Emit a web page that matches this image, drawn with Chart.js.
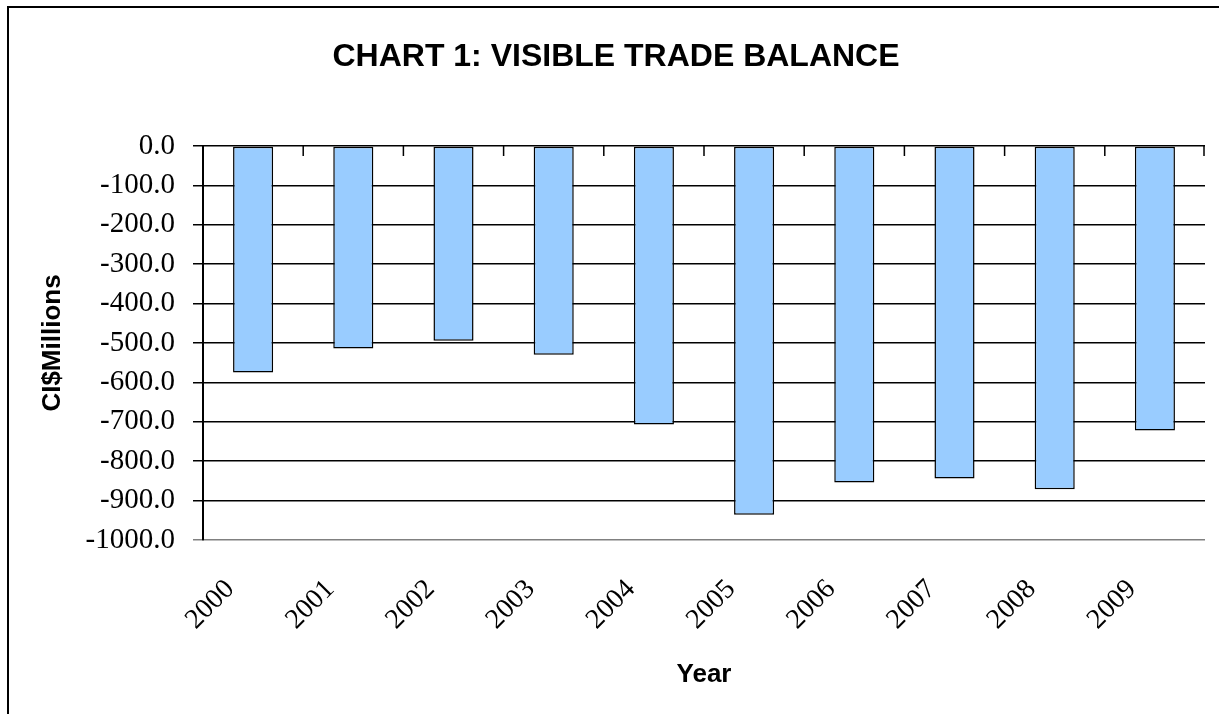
<!DOCTYPE html>
<html>
<head>
<meta charset="utf-8">
<script src="https://cdn.jsdelivr.net/npm/chart.js@4/dist/chart.umd.min.js"></script>
<style>
  html, body { margin: 0; padding: 0; background: #fff; }
  #wrap { position: relative; width: 1219px; height: 714px; overflow: hidden; }
  #frame { position: absolute; left: 7px; top: 6px; right: -10px; bottom: -10px;
           border-left: 2px solid #000; border-top: 2px solid #000; pointer-events: none; }
</style>
</head>
<body>
<div id="wrap">
  <canvas id="myChart" width="1219" height="714"></canvas>
  <div id="frame"></div>
</div>
<script>
'use strict'

let years = ['2000', '2001', '2002', '2003', '2004', '2005', '2006', '2007', '2008', '2009'];
let balance = [-575, -514, -494, -530, -707, -936, -854, -844, -871, -722];
let yMin = -1000;
let yMax = 0;
let yStep = 100;

// small tick marks pointing down from the zero line, between the bars
let innerTicks = {
    id: 'innerTicks',
    afterDatasetsDraw(chart) {
        let x = chart.scales.x;
        let top = chart.chartArea.top;
        let ctx = chart.ctx;
        ctx.save();
        ctx.strokeStyle = '#000';
        ctx.lineWidth = 1.5;
        ctx.beginPath();
        for (let i = 1; i <= years.length; i++) {
            let px = (x.getPixelForValue(i - 1) + x.getPixelForValue(i)) / 2;
            if (i === years.length) px = chart.chartArea.right - 1;
            ctx.moveTo(px, top);
            ctx.lineTo(px, top + 10);
        }
        ctx.stroke();
        ctx.restore();
    }
};

let ctx = document.getElementById('myChart').getContext('2d');
let myChart = new Chart(ctx, {
    type: 'bar',
    data: {
        labels: years,
        datasets: [{
            label: 'Visible trade balance',
            data: balance,
            backgroundColor: '#99CCFF',
            borderColor: '#000',
            borderWidth: 1.5,
            borderSkipped: false,
            barPercentage: 0.4,
            categoryPercentage: 1.0
        }]
    },
    options: {
        responsive: false,
        animation: false,
        layout: { padding: { left: 27, right: 14, top: 0, bottom: 0 } },
        plugins: {
            legend: { display: false },
            tooltip: { enabled: false },
            title: {
                display: true,
                text: 'CHART 1: VISIBLE TRADE BALANCE',
                color: '#000',
                font: { family: 'Liberation Sans', size: 32, weight: 'bold' },
                padding: { top: 38, bottom: 69.6 }
            }
        },
        scales: {
            x: {
                offset: true,
                afterFit: function (scale) { scale.height = 174; },
                grid: {
                    offset: true,
                    drawTicks: false,
                    lineWidth: 1.5,
                    color: function (c) { return c.index === years.length ? '#808080' : 'rgba(0,0,0,0)'; }
                },
                border: { display: false },
                ticks: {
                    autoSkip: false,
                    maxRotation: 45,
                    minRotation: 45,
                    padding: 33,
                    labelOffset: -23,
                    color: '#000',
                    font: { family: 'Liberation Serif', size: 28 }
                },
                title: {
                    display: true,
                    text: 'Year',
                    color: '#000',
                    font: { family: 'Liberation Sans', size: 26, weight: 'bold' },
                    padding: { top: 0, bottom: 24 }
                }
            },
            y: {
                min: yMin,
                max: yMax,
                afterFit: function (scale) { scale.width = 176; },
                grid: {
                    lineWidth: 1.5,
                    tickLength: 10,
                    color: function (c) { return c.tick && c.tick.value === yMin ? '#808080' : '#000'; }
                },
                border: { color: '#000', width: 2 },
                ticks: {
                    stepSize: yStep,
                    padding: 18,
                    color: '#000',
                    font: { family: 'Liberation Serif', size: 29 },
                    callback: function (v) { return v.toFixed(1); }
                },
                title: {
                    display: true,
                    text: 'CI$Millions',
                    color: '#000',
                    font: { family: 'Liberation Sans', size: 26, weight: 'bold' },
                    padding: { top: 10, bottom: 0 }
                }
            }
        }
    },
    plugins: [innerTicks]
});
</script>
</body>
</html>
